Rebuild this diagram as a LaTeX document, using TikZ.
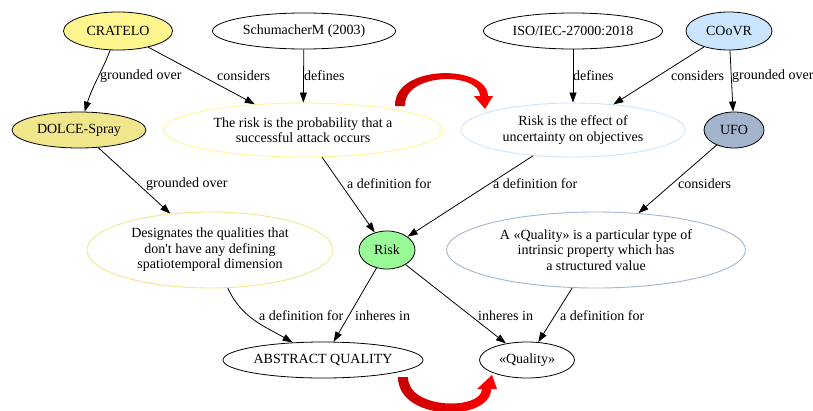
\documentclass[tikz,border=0pt]{standalone}
\usepackage{fontspec}
\newfontfamily\diagfont{Liberation Serif}
\usetikzlibrary{shapes.geometric,arrows.meta}
\definecolor{khakione}{HTML}{FFF68F}
\definecolor{khakitwo}{HTML}{F0E68C}
\definecolor{paleblue}{HTML}{CCE5FF}
\definecolor{steelthree}{HTML}{A2B5CD}
\definecolor{mintgreen}{HTML}{98FB98}
\begin{document}
\begin{tikzpicture}[x=1pt,y=1pt,
  every node/.style={font=\diagfont\fontsize{14}{15.5}\selectfont},
  ent/.style={ellipse, draw=black, line width=0.8pt, inner sep=0pt, align=center},
  defn/.style={ellipse, draw, line width=0.9pt, inner sep=0pt, align=center},
  rel/.style={-{Triangle[length=10pt,width=7pt]}, line width=0.8pt},
  lbl/.style={anchor=west, inner sep=0pt},
  swap/.style={left color=red!78!black, right color=red}
]
\useasboundingbox (0,0) rectangle (813,-410);
\clip (0,0) rectangle (813,-410);

% sources and ontologies
\node[ent, fill=khakione, minimum width=109, minimum height=38] (cratelo) at (118,-31) {CRATELO};
\node[ent, minimum width=183, minimum height=36] (schu) at (304,-31) {SchumacherM (2003)};
\node[ent, minimum width=179, minimum height=36] (iso) at (573,-31) {ISO/IEC-27000:2018};
\node[ent, fill=paleblue, minimum width=86, minimum height=38] (coovr) at (729,-31) {COoVR};
\node[ent, fill=khakitwo, minimum width=134, minimum height=36] (dolce) at (79,-130) {DOLCE-Spray};
\node[ent, fill=steelthree, minimum width=60, minimum height=36] (ufo) at (734,-130) {UFO};

% definitions
\node[defn, draw=khakione, minimum width=279, minimum height=54] (prob) at (303,-130)
  {The risk is the probability that a\\successful attack occurs};
\node[defn, draw=paleblue, minimum width=224, minimum height=54] (effect) at (573,-130)
  {Risk is the effect of\\uncertainty on objectives};
\node[defn, draw=khakitwo, minimum width=246, minimum height=76] (desig) at (210,-250)
  {Designates the qualities that\\don\textquotesingle t have any defining\\spatiotemporal dimension};
\node[defn, draw=steelthree, minimum width=299, minimum height=76] (qdef) at (596,-250)
  {A «Quality» is a particular type of\\intrinsic property which has\\a structured value};

% concepts
\node[ent, fill=mintgreen, minimum width=56, minimum height=38] (risk) at (387,-250) {Risk};
\node[ent, minimum width=200, minimum height=36] (abs) at (323,-360) {ABSTRACT QUALITY};
\node[ent, minimum width=95, minimum height=36] (qual) at (527,-360) {«Quality»};

% relations
\draw[rel] (cratelo) to[out=-112,in=73] (dolce);
\draw[rel] (cratelo) -- (prob);
\draw[rel] (schu) -- (prob);
\draw[rel] (iso) -- (effect);
\draw[rel] (coovr) -- (effect);
\draw[rel] (coovr) -- (ufo);
\draw[rel] (dolce) -- (desig);
\draw[rel] (prob) -- (risk);
\draw[rel] (effect) -- (risk);
\draw[rel] (ufo) -- (qdef);
\draw[rel] (desig) to[out=-65,in=150] (abs);
\draw[rel] (risk) -- (abs);
\draw[rel] (risk) -- (qual);
\draw[rel] (qdef) -- (qual);

% relation labels
\node[lbl] (l1) at (100,-76) {grounded over};
\node[lbl] (l2) at (217,-76) {considers};
\node[lbl] (l3) at (304,-76) {defines};
\node[lbl] (l4) at (573,-76) {defines};
\node[lbl] (l5) at (671,-76) {considers};
\node[lbl] (l6) at (732,-76) {grounded over};
\node[lbl] (l7) at (146,-184) {grounded over};
\node[lbl] (l8) at (347,-184) {a definition for};
\node[lbl] (l9) at (493,-184) {a definition for};
\node[lbl] (l10) at (678,-184) {considers};
\node[lbl] (l11) at (259,-316) {a definition for};
\node[lbl] (l12) at (355,-316) {inheres in};
\node[lbl] (l13) at (478,-316) {inheres in};
\node[lbl] (l14) at (560,-316) {a definition for};

% curved red arrows between the two columns
\shade[swap] (395,-106) .. controls (394,-64) and (487,-64) .. (488,-96)
  -- (493,-96) -- (485,-109) -- (474,-96) -- (480,-96)
  .. controls (480,-72) and (404,-72) .. (405,-106) -- cycle;
\shade[swap] (398,-377) .. controls (398,-422) and (491,-422) .. (491,-389)
  -- (497,-389) -- (492,-375) -- (477,-389) -- (482,-389)
  .. controls (482,-410) and (408,-410) .. (408,-377) -- cycle;
\end{tikzpicture}
\end{document}
